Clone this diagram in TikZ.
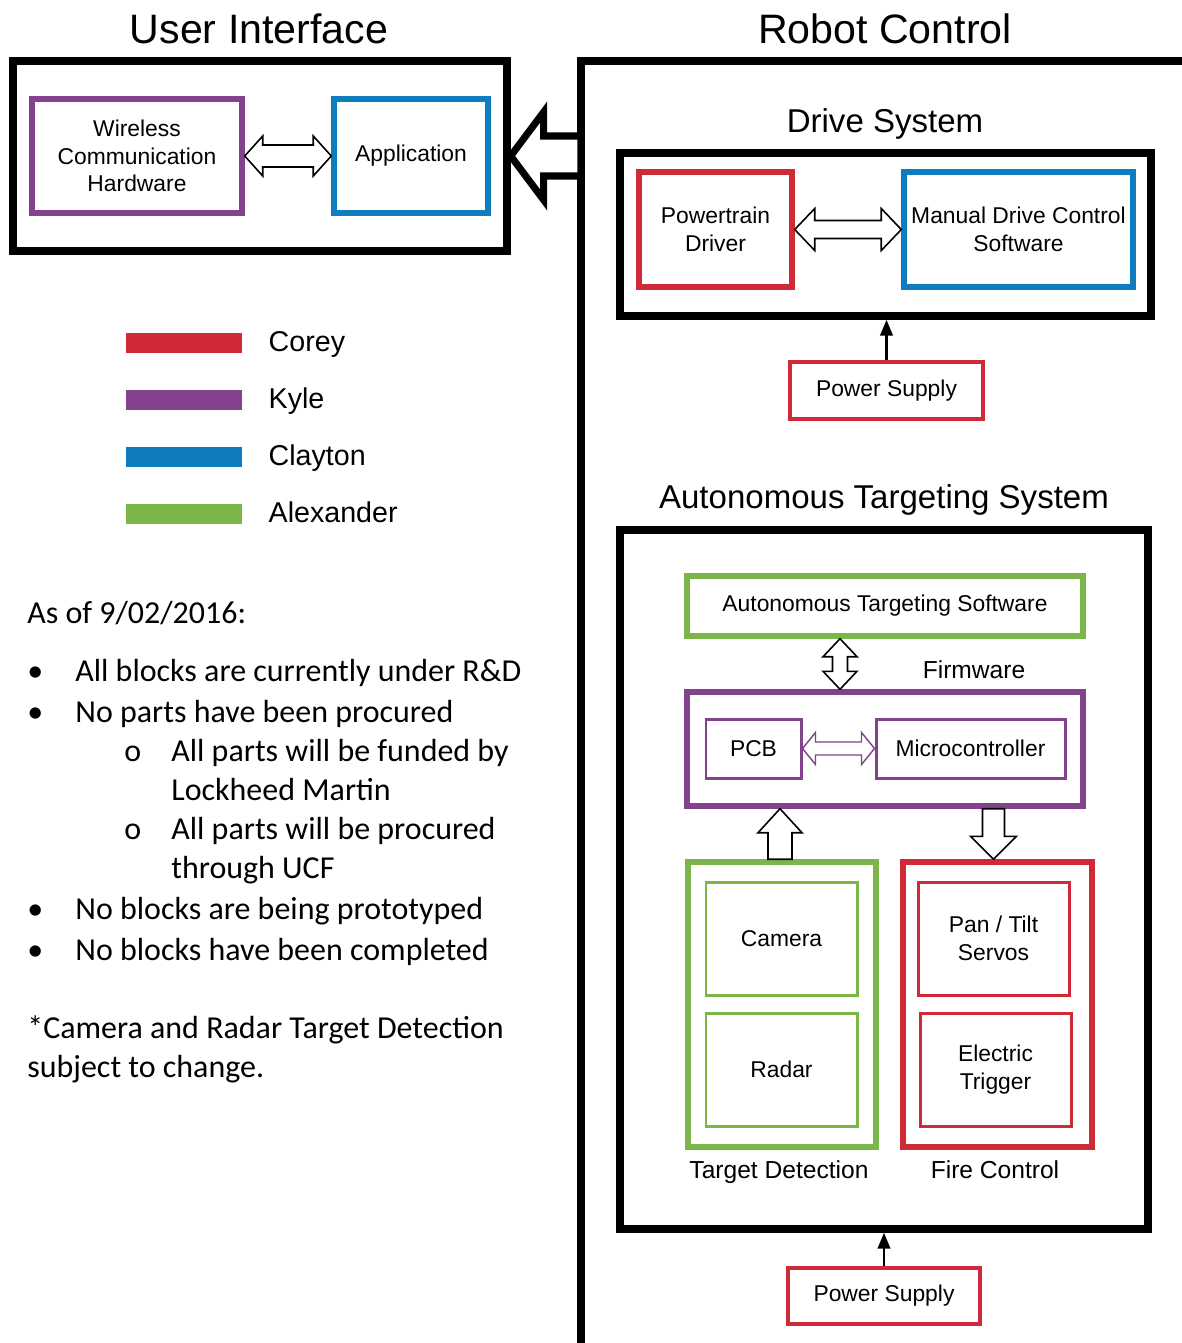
\documentclass[tikz,border=0pt]{standalone}
\usepackage{fontspec}
\setmainfont{Liberation Sans}
\newfontfamily\notefont{Carlito}
\usepackage{xcolor}
\usepackage{tikz}
\usetikzlibrary{
  arrows.meta,
  positioning,
  calc
}
\definecolor{CoreyRed}{RGB}{208,42,56}
\definecolor{KylePurple}{RGB}{130,66,140}
\definecolor{ClaytonBlue}{RGB}{16,124,192}
\definecolor{AlexGreen}{RGB}{122,182,72}
%%── hollow block arrows: [style]{from}{to}{head length}{head half width}{shaft half width}
\newcommand{\twoway}[6][]{%
  \draw[blk, #1] (#2)
    -- ($($(#2)!#4!(#3)$)!#5!90:(#3)$)
    -- ($($(#2)!#4!(#3)$)!#6!90:(#3)$)
    -- ($($(#3)!#4!(#2)$)!#6!-90:(#2)$)
    -- ($($(#3)!#4!(#2)$)!#5!-90:(#2)$)
    -- (#3)
    -- ($($(#3)!#4!(#2)$)!#5!90:(#2)$)
    -- ($($(#3)!#4!(#2)$)!#6!90:(#2)$)
    -- ($($(#2)!#4!(#3)$)!#6!-90:(#3)$)
    -- ($($(#2)!#4!(#3)$)!#5!-90:(#3)$)
    -- cycle;}
\newcommand{\oneway}[6][]{%
  \draw[blk, #1] ($(#2)!#6!90:(#3)$)
    -- ($($(#3)!#4!(#2)$)!#6!-90:(#2)$)
    -- ($($(#3)!#4!(#2)$)!#5!-90:(#2)$)
    -- (#3)
    -- ($($(#3)!#4!(#2)$)!#5!90:(#2)$)
    -- ($($(#3)!#4!(#2)$)!#6!90:(#2)$)
    -- ($(#2)!#6!-90:(#3)$)
    -- cycle;}
\tikzset{
  %%── sizes are given in pixels of the sheet (1px = 0.02cm) ─────
  sz/.style 2 args = {minimum width = #1*0.02cm, minimum height = #2*0.02cm},
  %%── boxes ─────────────────────────────────────────────────
  boxline/.style = {draw = black, line width = 4.2pt},
  outer/.style = {rectangle, boxline, inner sep = 0pt},
  grp/.style = {
    rectangle, draw = #1, line width = 3.1pt, inner sep = 0pt,
    align = center, font = \fontsize{13}{15.8}\selectfont
  },
  part/.style = {
    rectangle, draw = #1, line width = 1.7pt, inner sep = 0pt,
    align = center, font = \fontsize{13}{15.8}\selectfont
  },
  psu/.style = {
    rectangle, draw = CoreyRed, line width = 2.3pt, inner sep = 0pt,
    align = center, font = \fontsize{13}{15.8}\selectfont
  },
  %%── texts ─────────────────────────────────────────────────
  bigttl/.style = {anchor = base, inner sep = 0pt, font = \fontsize{23.4}{28}\selectfont},
  ttl/.style    = {anchor = base, inner sep = 0pt, font = \fontsize{18.8}{22}\selectfont},
  lbl/.style    = {anchor = base, inner sep = 0pt, font = \fontsize{14}{17}\selectfont},
  legbar/.style = {rectangle, fill = #1, sz = {116}{20}, inner sep = 0pt},
  legtxt/.style = {anchor = base west, inner sep = 0pt, font = \fontsize{16.3}{19}\selectfont},
  note/.style   = {anchor = base west, inner sep = 0pt, font = \notefont\fontsize{18.2}{22}\selectfont},
  %%── arrows ────────────────────────────────────────────────
  blk/.style  = {draw = black, fill = white, line width = 0.9pt},
  feed/.style = {-{Triangle[length = 9pt, width = 7pt]}, line width = 1.5pt},
}

\begin{document}
\begin{tikzpicture}[x = 0.02cm, y = -0.02cm]
  \useasboundingbox (0,0) rectangle (1181,1343);
  %% user interface
  \node[bigttl] (uit) at (259,43) {User Interface};
  \node[outer, sz = {494}{190}] (ui) at (260,156) {};
  \node[grp = KylePurple,  sz = {210}{114}] (wch) at (137,156)
    {Wireless\\Communication\\Hardware};
  \node[grp = ClaytonBlue, sz = {154}{114}] (app) at (411,156) {Application};
  \twoway{wch.east}{app.west}{0.36cm}{0.4cm}{0.22cm}

  %% robot control
  \node[bigttl] (rct) at (885,43) {Robot Control};
  \draw[boxline] (1195,61) -- (581,61) -- (581,1360);
  \coordinate (rcport) at (581,156);
  \oneway[line width = 4pt]{rcport}{ui.east}{0.66cm}{0.88cm}{0.4cm}

  %% drive system
  \node[ttl] (drvt) at (885,132) {Drive System};
  \node[outer, sz = {531}{163}] (drv) at (885.5,234.5) {};
  \node[grp = CoreyRed,    sz = {153}{115}] (ptd) at (715.5,229.5) {Powertrain\\Driver};
  \node[grp = ClaytonBlue, sz = {229}{115}] (mdc) at (1018.5,229.5)
    {Manual Drive Control\\Software};
  \twoway{ptd.east}{mdc.west}{0.4cm}{0.42cm}{0.18cm}
  \node[psu, sz = {193}{57}] (ps1) at (886.5,390.5) {Power Supply};
  \draw[feed] (ps1.north) -- (ps1.north |- drv.south);

  %% autonomous targeting system
  \node[ttl] (atst) at (884,508) {Autonomous Targeting System};
  \node[outer, sz = {528}{699}] (ats) at (884,879.5) {};
  \node[grp = AlexGreen,  sz = {396}{60}]  (ass) at (885,606) {Autonomous Targeting Software};
  \node[lbl] (fwt) at (974,678) {Firmware};
  \node[grp = KylePurple, sz = {396}{114}] (fw)  at (885,749) {};
  \node[part = KylePurple, sz = {95}{59}]  (pcb) at (753.5,748.5) {PCB};
  \node[part = KylePurple, sz = {189}{59}] (mcu) at (970.5,748.5) {Microcontroller};
  \coordinate (vtop) at ([xshift = -0.9cm]ass.south);
  \coordinate (vbot) at (vtop |- fw.north);
  \twoway{vtop}{vbot}{0.36cm}{0.34cm}{0.15cm}
  \twoway[draw = KylePurple, line width = 0.8pt]{pcb.east}{mcu.west}{0.26cm}{0.32cm}{0.13cm}

  \node[grp = AlexGreen, sz = {188}{285}] (td) at (782,1004.5) {};
  \node[part = AlexGreen, sz = {151}{113}] (cam) at (781.5,938.5) {Camera};
  \node[part = AlexGreen, sz = {151}{113}] (rad) at (781.5,1069.5) {Radar};
  \node[lbl] (tdt) at (779,1178) {Target Detection};
  \node[grp = CoreyRed, sz = {189}{285}] (fc) at (997.5,1004.5) {};
  \node[part = CoreyRed, sz = {151}{113}] (pts) at (993.5,938.5) {Pan / Tilt\\Servos};
  \node[part = CoreyRed, sz = {151}{113}] (trg) at (995.5,1069.5) {Electric\\Trigger};
  \node[lbl] (fct) at (995,1178) {Fire Control};
  \coordinate (uptail) at ([xshift = -0.04cm]td.north);
  \coordinate (uphead) at (uptail |- fw.south);
  \oneway{uptail}{uphead}{0.48cm}{0.44cm}{0.24cm}
  \coordinate (dntail) at (pts.north |- fw.south);
  \coordinate (dnhead) at (pts.north |- fc.north);
  \oneway{dntail}{dnhead}{0.46cm}{0.46cm}{0.22cm}

  \node[psu, sz = {192}{56}] (ps2) at (884,1296) {Power Supply};
  \draw[feed] (ps2.north) -- (ps2.north |- ats.south);

  %% legend
  \foreach \clr/\who [count = \i from 0] in
    {CoreyRed/Corey, KylePurple/Kyle, ClaytonBlue/Clayton, AlexGreen/Alexander}{
    \node[legbar = \clr] (bar\i) at (184,{343+57*\i}) {};
    \node[legtxt] (who\i) at ([xshift = 0.52cm, yshift = -0.16cm]bar\i.east) {\who};
  }

  %% status notes
  \node[note] (n0) at (27,623) {As of 9/02/2016:};
  \foreach \y [count = \i] in {681,722,919,960}
    \node[note] (dot\i) at (27,\y) {\textbullet};
  \foreach \y [count = \i] in {761,839}
    \node[note] (sub\i) at (124,\y) {o};
  \node[note] (n1) at (75,681)  {All blocks are currently under R\&D};
  \node[note] (n2) at (75,722)  {No parts have been procured};
  \node[note] (n3) at (171,761) {All parts will be funded by};
  \node[note] (n4) at (171,800) {Lockheed Martin};
  \node[note] (n5) at (171,839) {All parts will be procured};
  \node[note] (n6) at (171,878) {through UCF};
  \node[note] (n7) at (75,919)  {No blocks are being prototyped};
  \node[note] (n8) at (75,960)  {No blocks have been completed};
  \node[note] (n9) at (27,1038) {*Camera and Radar Target Detection};
  \node[note] (n10) at (27,1077) {subject to change.};
\end{tikzpicture}
\end{document}
